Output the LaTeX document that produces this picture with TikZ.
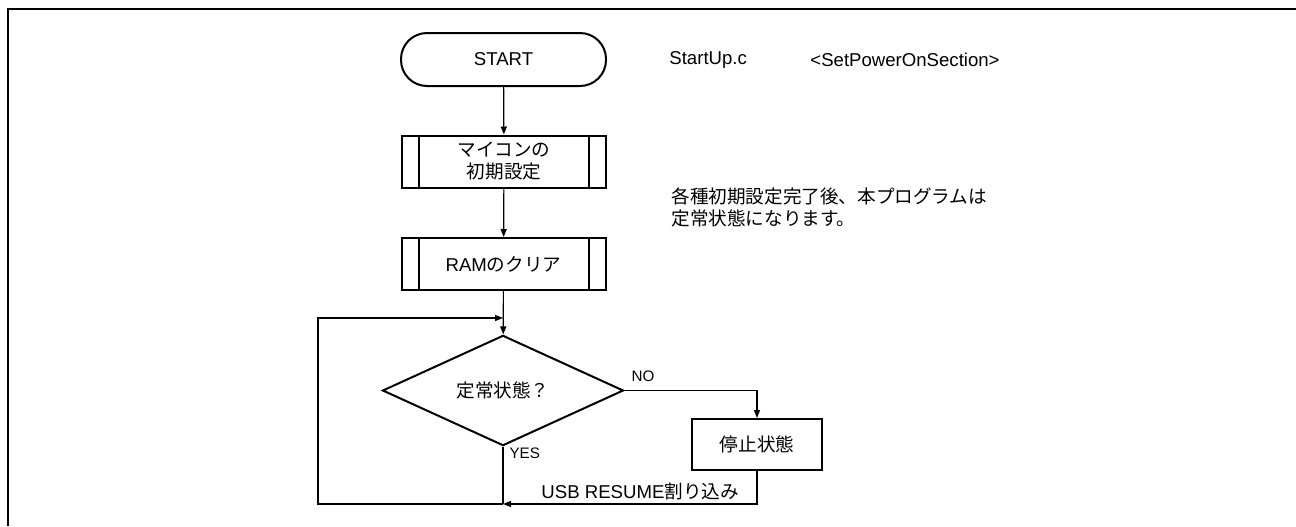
\documentclass[tikz,border=0pt]{standalone}
\usepackage{fontspec}
\setmainfont{Liberation Sans}
\newfontfamily\jpfont{Noto Sans CJK JP}
\newcommand\chartfont{\fontsize{9.3}{11}\selectfont}
\usetikzlibrary{shapes.geometric, arrows.meta, positioning, calc}
\tikzset{
    terminal/.style={rectangle, rounded corners=13pt, minimum width=102.5pt, minimum height=26.5pt, text centered, draw=black, line width=1pt, font=\chartfont},
    subproc/.style={rectangle, minimum width=102pt, minimum height=26pt, text centered, align=center, draw=black, line width=1pt, font=\chartfont,
        path picture={\draw[line width=1pt] ([xshift=8.5pt]path picture bounding box.north west) -- ([xshift=8.5pt]path picture bounding box.south west)
            ([xshift=-8.5pt]path picture bounding box.north east) -- ([xshift=-8.5pt]path picture bounding box.south east);}},
    process/.style={rectangle, minimum width=65pt, minimum height=25.5pt, text centered, draw=black, line width=1pt, font=\chartfont\jpfont},
    decision/.style={diamond, minimum width=120.5pt, minimum height=47.5pt, inner sep=0pt, text centered, draw=black, line width=1pt, font=\chartfont\jpfont},
    remark/.style={font=\chartfont, anchor=west, inner sep=0pt},
    flag/.style={font=\fontsize{7.6}{9}\selectfont, inner sep=2pt},
    arrow/.style={line width=0.6pt, -{Triangle[length=4pt, width=3pt]}},
    link/.style={line width=0.6pt}
}
\begin{document}
\begin{tikzpicture}[x=0.5pt, y=-0.5pt]
        \useasboundingbox (0,0) rectangle (1296,526);
        % Frame
        \draw[line width=1.2pt] (8,526) -- (8,9) -- (1296,9);

        % Flow nodes
        \node (start) [terminal] at (503.5,59.5) {START};
        \node (init) [subproc, font=\chartfont\jpfont] at (504,161.5) {マイコンの\\初期設定};
        \node (ramclr) [subproc] at (503.5,264) {RAM{\jpfont のクリア}};
        \node (check) [decision] at (503,390.5) {定常状態？};
        \node (halt) [process] at (757,444.5) {停止状態};

        % Remarks
        \node (file) [remark] at (669,60) {StartUp.c};
        \node (sect) [remark] at (810,60) {<SetPowerOnSection>};
        \node (note) [remark, align=left, font=\chartfont\jpfont] at (671,207) {各種初期設定完了後、本プログラムは\\定常状態になります。};

        % Loop points
        \coordinate (join) at (503,318);
        \coordinate (merge) at (503,504);
        \coordinate (loopbl) at (318,504);
        \coordinate (looptl) at (318,318);

        % Flows
        \draw[arrow] (start) -- (init);
        \draw[arrow] (init) -- (ramclr);
        \draw[arrow] (ramclr) -- (check);
        \draw[arrow] (check.east) -| node[flag, pos=0.07, above, yshift=2pt] {NO} (halt.north);
        \draw[link] (check.south) -- node[flag, pos=0.12, right, xshift=1pt] {YES} (merge);
        \draw[arrow] (halt.south) |- node[pos=0.73, above, font=\chartfont, inner sep=1.5pt] {USB RESUME{\jpfont 割り込み}} (merge);
        \draw[arrow] (merge) -- (loopbl) -- (looptl) -- (join);
    \end{tikzpicture}
\end{document}
